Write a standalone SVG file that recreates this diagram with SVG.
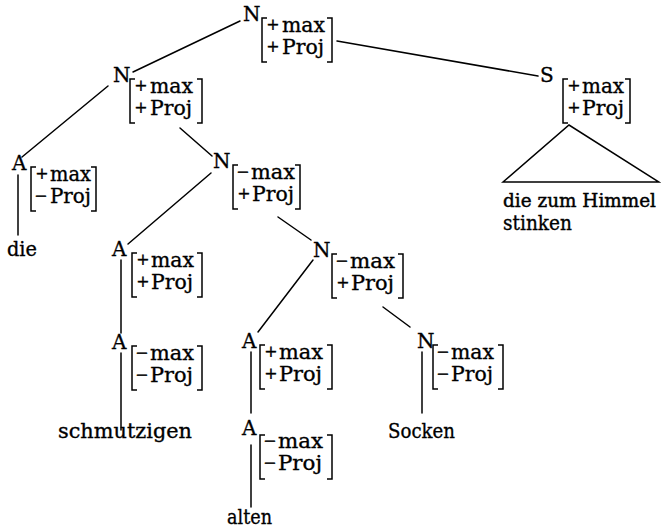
<svg xmlns="http://www.w3.org/2000/svg" width="661" height="528" viewBox="0 0 661 528">
<style>
  text { font-family: "DejaVu Serif", "Liberation Serif", serif; fill: #000; stroke: #000; stroke-width: 0.35; }
  .lab { font-size: 20px; }
  .f { font-size: 20px; }
  .s { font-family: "Liberation Serif", "DejaVu Serif", serif; font-size: 21px; stroke-width: 0.5; }
  .leaf { font-size: 21px; }
  .leafs { font-size: 18.5px; stroke-width: 0.45; }
  .br { fill: none; stroke: #000; stroke-width: 1.5; }
  .e { fill: none; stroke: #000; stroke-width: 1.5; stroke-linecap: round; }
</style>
<rect width="661" height="528" fill="#fff"/>
<g id="connectors">
  <line class="e" x1="240" y1="21" x2="133" y2="72"/>
  <line class="e" x1="337" y1="41" x2="538" y2="76"/>
  <line class="e" x1="108" y1="86" x2="22" y2="157"/>
  <line class="e" x1="180" y1="128" x2="212" y2="156"/>
  <line class="e" x1="211" y1="173" x2="128" y2="244"/>
  <line class="e" x1="278" y1="217" x2="311" y2="240"/>
  <line class="e" x1="313" y1="260" x2="258" y2="332"/>
  <line class="e" x1="383" y1="307" x2="410" y2="327"/>
  <line class="e" x1="18" y1="175" x2="18" y2="235"/>
  <line class="e" x1="121" y1="260" x2="121" y2="333"/>
  <line class="e" x1="121" y1="353" x2="121" y2="430"/>
  <line class="e" x1="251" y1="352" x2="251" y2="413"/>
  <line class="e" x1="251" y1="445" x2="251" y2="507"/>
  <line class="e" x1="422" y1="352" x2="422" y2="413"/>
  <path class="e" d="M503,182 L569,125 L659,182 Z"/>
</g>
<g id="n-root">
  <text class="lab" x="243" y="21">N</text>
  <path class="br" d="M267,18 H262 V62 H267 M327,18 H332 V62 H327"/>
  <text class="s" x="267" y="32">+</text><text class="f" x="282" y="32" textLength="43" lengthAdjust="spacingAndGlyphs">max</text>
  <text class="s" x="267" y="54">+</text><text class="f" x="282" y="54" textLength="42" lengthAdjust="spacingAndGlyphs">Proj</text>
</g>
<g id="n-np">
  <text class="lab" x="113" y="82">N</text>
  <path class="br" d="M135,79 H130 V123 H135 M197,79 H202 V123 H197"/>
  <text class="s" x="135" y="93">+</text><text class="f" x="150" y="93" textLength="43" lengthAdjust="spacingAndGlyphs">max</text>
  <text class="s" x="135" y="115">+</text><text class="f" x="150" y="115" textLength="42" lengthAdjust="spacingAndGlyphs">Proj</text>
</g>
<g id="a-die">
  <text class="lab" x="12" y="170">A</text>
  <path class="br" d="M36,167 H31 V211 H36 M91,167 H96 V211 H91"/>
  <text class="s" x="36" y="181">+</text><text class="f" x="50" y="181" textLength="41" lengthAdjust="spacingAndGlyphs">max</text>
  <text class="s" x="35" y="203">−</text><text class="f" x="50" y="203" textLength="41" lengthAdjust="spacingAndGlyphs">Proj</text>
</g>
<g id="w-die"><text class="leaf" x="7" y="256" textLength="30" lengthAdjust="spacingAndGlyphs">die</text></g>
<g id="n-nbar">
  <text class="lab" x="213" y="168">N</text>
  <path class="br" d="M238,165 H233 V209 H238 M295,165 H300 V209 H295"/>
  <text class="s" x="237" y="179">−</text><text class="f" x="251" y="179" textLength="44" lengthAdjust="spacingAndGlyphs">max</text>
  <text class="s" x="238" y="201">+</text><text class="f" x="252" y="201" textLength="42" lengthAdjust="spacingAndGlyphs">Proj</text>
</g>
<g id="s-rel">
  <text class="lab" x="540" y="82">S</text>
  <path class="br" d="M568,79 H563 V123 H568 M625,79 H630 V123 H625"/>
  <text class="s" x="568" y="93">+</text><text class="f" x="582" y="93" textLength="42" lengthAdjust="spacingAndGlyphs">max</text>
  <text class="s" x="568" y="115">+</text><text class="f" x="582" y="115" textLength="42" lengthAdjust="spacingAndGlyphs">Proj</text>
</g>
<g id="w-rel">
  <text class="leafs" x="503" y="207" textLength="153" lengthAdjust="spacingAndGlyphs">die zum Himmel</text>
  <text class="leaf" x="503" y="230" textLength="69" lengthAdjust="spacingAndGlyphs">stinken</text>
</g>
<g id="a-schm-max">
  <text class="lab" x="112" y="256">A</text>
  <path class="br" d="M137,253 H132 V297 H137 M197,253 H202 V297 H197"/>
  <text class="s" x="137" y="267">+</text><text class="f" x="151" y="267" textLength="43" lengthAdjust="spacingAndGlyphs">max</text>
  <text class="s" x="137" y="289">+</text><text class="f" x="151" y="289" textLength="42" lengthAdjust="spacingAndGlyphs">Proj</text>
</g>
<g id="a-schm-min">
  <text class="lab" x="112" y="349">A</text>
  <path class="br" d="M137,346 H132 V390 H137 M197,346 H202 V390 H197"/>
  <text class="s" x="136" y="360">−</text><text class="f" x="150" y="360" textLength="44" lengthAdjust="spacingAndGlyphs">max</text>
  <text class="s" x="136" y="382">−</text><text class="f" x="150" y="382" textLength="43" lengthAdjust="spacingAndGlyphs">Proj</text>
</g>
<g id="w-schm"><text class="leaf" x="58" y="438" textLength="134" lengthAdjust="spacingAndGlyphs">schmutzigen</text></g>
<g id="n-n4">
  <text class="lab" x="313" y="257">N</text>
  <path class="br" d="M337,254 H332 V298 H337 M398,254 H403 V298 H398"/>
  <text class="s" x="336" y="268">−</text><text class="f" x="350" y="268" textLength="45" lengthAdjust="spacingAndGlyphs">max</text>
  <text class="s" x="337" y="290">+</text><text class="f" x="351" y="290" textLength="43" lengthAdjust="spacingAndGlyphs">Proj</text>
</g>
<g id="a-alt-max">
  <text class="lab" x="242" y="348">A</text>
  <path class="br" d="M265,345 H260 V389 H265 M327,345 H332 V389 H327"/>
  <text class="s" x="265" y="359">+</text><text class="f" x="279" y="359" textLength="44" lengthAdjust="spacingAndGlyphs">max</text>
  <text class="s" x="265" y="381">+</text><text class="f" x="279" y="381" textLength="43" lengthAdjust="spacingAndGlyphs">Proj</text>
</g>
<g id="a-alt-min">
  <text class="lab" x="242" y="435">A</text>
  <path class="br" d="M265,435 H260 V479 H265 M327,435 H332 V479 H327"/>
  <text class="s" x="264" y="448">−</text><text class="f" x="278" y="448" textLength="45" lengthAdjust="spacingAndGlyphs">max</text>
  <text class="s" x="264" y="470">−</text><text class="f" x="278" y="470" textLength="44" lengthAdjust="spacingAndGlyphs">Proj</text>
</g>
<g id="w-alt"><text class="leaf" x="227" y="524" textLength="45" lengthAdjust="spacingAndGlyphs">alten</text></g>
<g id="n-socken">
  <text class="lab" x="417" y="348">N</text>
  <path class="br" d="M438,345 H433 V389 H438 M498,345 H503 V389 H498"/>
  <text class="s" x="437" y="359">−</text><text class="f" x="451" y="359" textLength="43" lengthAdjust="spacingAndGlyphs">max</text>
  <text class="s" x="437" y="381">−</text><text class="f" x="451" y="381" textLength="42" lengthAdjust="spacingAndGlyphs">Proj</text>
</g>
<g id="w-socken"><text class="leaf" x="388" y="438" textLength="67" lengthAdjust="spacingAndGlyphs">Socken</text></g>
</svg>
